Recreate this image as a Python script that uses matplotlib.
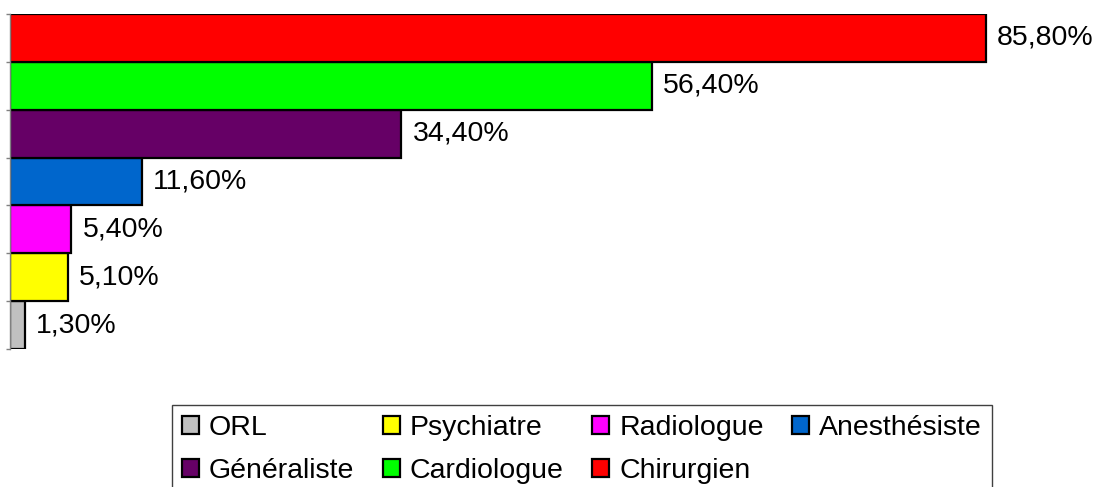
import numpy as np
import matplotlib
matplotlib.use('Agg')
import matplotlib.pyplot as plt
from matplotlib.patches import Patch

plt.rcParams['font.family'] = ['Liberation Sans', 'DejaVu Sans']

# data, bottom to top
specialites = ['ORL', 'Psychiatre', 'Radiologue', 'Anesthésiste', 'Généraliste', 'Cardiologue', 'Chirurgien']
valeurs = [1.3, 5.1, 5.4, 11.6, 34.4, 56.4, 85.8]
couleurs = ['#C0C0C0', '#FFFF00', '#FF00FF', '#0066CC', '#660066', '#00FF00', '#FF0000']

W, H = 1095, 487
fig = plt.figure(figsize=(W / 100, H / 100), dpi=100)

left, right = 10, 1095
top, bottom = 14, 349
ax = fig.add_axes([left / W, 1 - bottom / H, (right - left) / W, (bottom - top) / H])

px_per_pct = (987 - 11) / 85.8
y = np.arange(len(specialites))
bars = ax.barh(y, valeurs, height=1.0, color=couleurs, edgecolor='black', linewidth=1.6)

ax.set_xlim(0, (right - left) / px_per_pct)
ax.set_ylim(-0.5, len(specialites) - 0.5)

labels = [('%.2f%%' % v).replace('.', ',') for v in valeurs]
ax.bar_label(bars, labels=labels, padding=8, fontsize=20.5)

for s in ['top', 'right', 'bottom']:
    ax.spines[s].set_visible(False)
ax.spines['left'].set_color('#808080')
ax.spines['left'].set_linewidth(1)
ax.set_xticks([])
ax.set_yticks(np.arange(-0.5, len(specialites), 1.0))
ax.set_yticklabels([])
ax.tick_params(axis='y', length=3, color='#808080', width=1)

# legend in row-major order like the original
handles = {s: Patch(facecolor=c, edgecolor='black', linewidth=1.6) for s, c in zip(specialites, couleurs)}
order = ['ORL', 'Généraliste', 'Psychiatre', 'Cardiologue', 'Radiologue', 'Chirurgien', 'Anesthésiste']
leg = fig.legend([handles[k] for k in order], order, ncol=4, fontsize=20.5,
                 loc='upper left', bbox_to_anchor=(172 / W, 1 - 405 / H),
                 frameon=True, fancybox=False, framealpha=1, edgecolor='#404040',
                 handlelength=0.6, handleheight=0.6, handletextpad=0.35,
                 columnspacing=1.0, labelspacing=0.6, borderpad=0.35, borderaxespad=0)
leg.get_frame().set_linewidth(1)

fig.savefig('out.png', dpi=100)
